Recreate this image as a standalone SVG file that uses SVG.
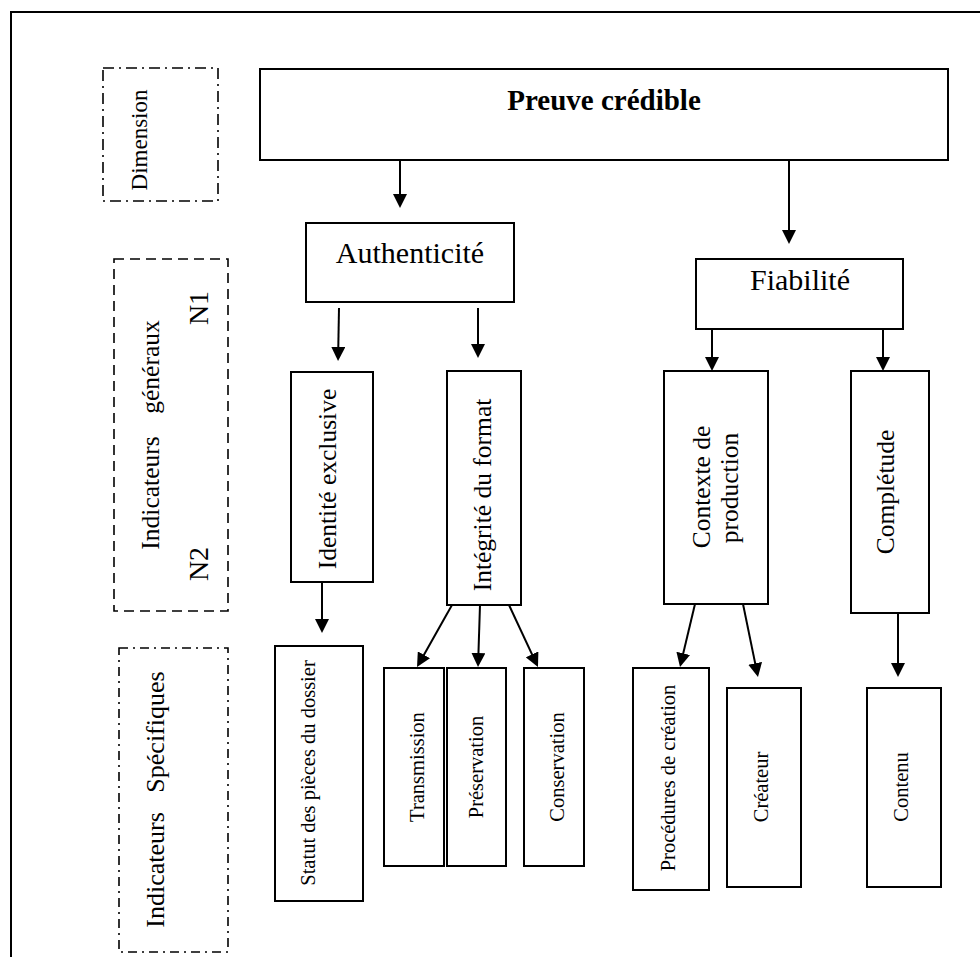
<svg xmlns="http://www.w3.org/2000/svg" width="980" height="957" viewBox="0 0 980 957">
  <defs>
    <marker id="arrow" markerUnits="userSpaceOnUse" markerWidth="14" markerHeight="14" refX="11" refY="7" orient="auto">
      <path d="M0,0 L14,7 L0,14 z" fill="#000"/>
    </marker>
    <style>
      .frame { fill: none; stroke: #000; stroke-width: 2; }
      .box { fill: #fff; stroke: #000; stroke-width: 2; }
      .dashdot { fill: none; stroke: #000; stroke-width: 1.6; stroke-dasharray: 11 5 2 5; }
      .dashdot2 { fill: none; stroke: #000; stroke-width: 1.6; stroke-dasharray: 9 5 2 5; }
      .dashed { fill: none; stroke: #000; stroke-width: 1.6; stroke-dasharray: 10 6; }
      .link { fill: none; stroke: #000; stroke-width: 2; marker-end: url(#arrow); }
      text { font-family: "Liberation Serif", "Times New Roman", serif; fill: #000; text-anchor: middle; }
      .title { font-size: 29px; font-weight: bold; }
      .l1 { font-size: 30px; }
      .l2 { font-size: 25.5px; }
      .l3 { font-size: 20.5px; }
      .side { font-size: 25.5px; }
      .lvl { font-size: 28px; }
    </style>
  </defs>

  <rect width="980" height="957" fill="#fff"/>
  <!-- outer frame (extends past the page edge on right and bottom) -->
  <rect class="frame" x="11" y="12" width="1000" height="1000"/>

  <!-- level labels on the left -->
  <g id="label-dimension">
    <rect class="dashdot" x="103" y="68" width="115" height="133"/>
    <text style="font-size:23px" transform="translate(147,140) rotate(-90)">Dimension</text>
  </g>
  <g id="label-generaux">
    <rect class="dashed" x="114" y="259" width="114" height="352"/>
    <text class="side" transform="translate(159,493) rotate(-90)">Indicateurs</text>
    <text class="side" transform="translate(159,367) rotate(-90)">généraux</text>
    <text class="lvl" transform="translate(208,308) rotate(-90)">N1</text>
    <text class="lvl" transform="translate(208,564) rotate(-90)">N2</text>
  </g>
  <g id="label-specifiques">
    <rect class="dashdot2" x="119" y="648" width="109" height="304"/>
    <text style="font-size:26px" transform="translate(164,870) rotate(-90)">Indicateurs</text>
    <text style="font-size:26px" transform="translate(164,732) rotate(-90)">Spécifiques</text>
  </g>

  <!-- connectors -->
  <g id="connectors">
    <line class="link" x1="400" y1="160" x2="400" y2="205"/>
    <line class="link" x1="789" y1="160" x2="789" y2="241"/>
    <line class="link" x1="339" y1="308" x2="338.1" y2="358"/>
    <line class="link" x1="478" y1="308" x2="478" y2="355"/>
    <line class="link" x1="712" y1="329" x2="712" y2="368"/>
    <line class="link" x1="883" y1="329" x2="883" y2="368"/>
    <line class="link" x1="322" y1="582" x2="322" y2="630"/>
    <line class="link" x1="452" y1="605" x2="418.5" y2="664.4"/>
    <line class="link" x1="480" y1="605" x2="478.1" y2="664"/>
    <line class="link" x1="509" y1="605" x2="536.7" y2="664.3"/>
    <line class="link" x1="695" y1="604" x2="680.7" y2="664.1"/>
    <line class="link" x1="743" y1="604" x2="757.4" y2="674.1"/>
    <line class="link" x1="898" y1="613" x2="898" y2="674"/>
  </g>

  <!-- dimension -->
  <g id="preuve">
    <rect class="box" x="260" y="69" width="688" height="91"/>
    <text class="title" x="604" y="110">Preuve crédible</text>
  </g>

  <!-- general indicators, level 1 -->
  <g id="authenticite">
    <rect class="box" x="306" y="223" width="208" height="79"/>
    <text class="l1" x="410" y="263">Authenticité</text>
  </g>
  <g id="fiabilite">
    <rect class="box" x="696" y="259" width="207" height="70"/>
    <text class="l1" x="800" y="290">Fiabilité</text>
  </g>

  <!-- general indicators, level 2 -->
  <g id="identite">
    <rect class="box" x="291" y="372" width="82" height="210"/>
    <text class="l2" transform="translate(336,479) rotate(-90)">Identité exclusive</text>
  </g>
  <g id="integrite">
    <rect class="box" x="447" y="371" width="74" height="234"/>
    <text class="l2" transform="translate(491,495) rotate(-90)">Intégrité du format</text>
  </g>
  <g id="contexte">
    <rect class="box" x="664" y="371" width="104" height="233"/>
    <text class="l2" transform="translate(710,487) rotate(-90)">Contexte de</text>
    <text class="l2" transform="translate(738,488) rotate(-90)">production</text>
  </g>
  <g id="completude">
    <rect class="box" x="851" y="371" width="78" height="242"/>
    <text class="l2" transform="translate(894,492) rotate(-90)">Complétude</text>
  </g>

  <!-- specific indicators -->
  <g id="statut">
    <rect class="box" x="275" y="646" width="88" height="255"/>
    <text class="l3" transform="translate(315,773) rotate(-90)">Statut des pièces du dossier</text>
  </g>
  <g id="transmission">
    <rect class="box" x="384" y="668" width="60" height="198"/>
    <text class="l3" transform="translate(424,767) rotate(-90)">Transmission</text>
  </g>
  <g id="preservation">
    <rect class="box" x="447" y="668" width="59" height="198"/>
    <text class="l3" transform="translate(483,767) rotate(-90)">Préservation</text>
  </g>
  <g id="conservation">
    <rect class="box" x="524" y="668" width="60" height="198"/>
    <text class="l3" transform="translate(564,767) rotate(-90)">Conservation</text>
  </g>
  <g id="procedures">
    <rect class="box" x="633" y="668" width="76" height="222"/>
    <text class="l3" transform="translate(675,778) rotate(-90)">Procédures de création</text>
  </g>
  <g id="createur">
    <rect class="box" x="727" y="688" width="74" height="199"/>
    <text class="l3" transform="translate(768,787) rotate(-90)">Créateur</text>
  </g>
  <g id="contenu">
    <rect class="box" x="867" y="688" width="74" height="199"/>
    <text class="l3" transform="translate(908,787) rotate(-90)">Contenu</text>
  </g>
</svg>
